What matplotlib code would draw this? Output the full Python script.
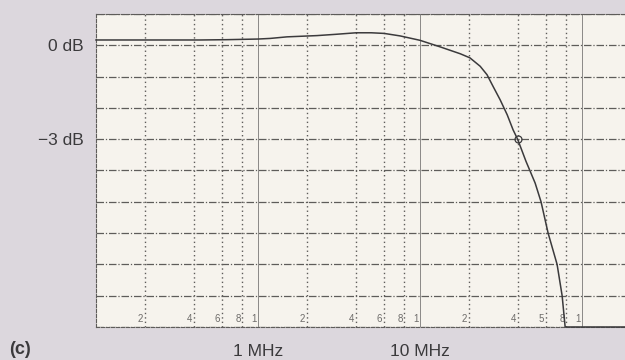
import matplotlib.pyplot as plt
import numpy as np

# frequency response (MHz, dB)
freq_mhz = [0.1, 0.215, 0.44, 0.644, 1.0, 1.19, 1.51, 2.31, 3.0, 4.03, 5.0, 6.0,
            7.53, 9.98, 13.3, 17.7, 20.3, 23.5, 25.9, 28.2, 31.2, 34.5, 37.5, 40.0,
            45.0, 51.3, 55.8, 61.7, 70.1, 75.3, 78.6, 100, 190]
gain_db = [0.17, 0.17, 0.17, 0.18, 0.2, 0.22, 0.27, 0.31, 0.35, 0.4, 0.4, 0.38,
           0.3, 0.16, -0.05, -0.27, -0.4, -0.67, -0.94, -1.31, -1.74, -2.22, -2.7, -3.0,
           -3.7, -4.4, -5.0, -6.0, -7.0, -8.0, -9.0, -9.0, -9.0]

marker_f = [40.0]
marker_db = [-3.0]

decade_f = [1, 10, 100]
minor_f = [0.2, 0.4, 0.6, 0.8, 2, 4, 6, 8, 20, 40, 60, 80]
minor_labels = ['2', '4', '6', '8', '2', '4', '6', '8', '2', '4', '5', '8']
decade_inner_labels = ['1', '1', '1']
y_grid = list(range(-9, 2))
y_labels = {0: '0 dB', -3: '\u22123 dB'}
x_labels = {1: '1 MHz', 10: '10 MHz'}

ink = '#3b3a3c'
grid_c = '#5e5c5a'

plt.rcParams['font.family'] = ['Liberation Sans', 'DejaVu Sans']

fig = plt.figure(figsize=(6.25, 3.6), dpi=100, facecolor='#dcd7dd')
ax = fig.add_axes([0.1536, 0.0917, 0.8464, 0.8694])
ax.set_facecolor('#f6f3ed')
ax.set_xscale('log')
ax.set_xlim(0.1, 184)
ax.set_ylim(-9, 1)

# grid
for y in y_grid:
    ax.axhline(y, color=grid_c, lw=0.9, ls=(0, (6, 1.5, 1, 1.5)), zorder=1)
for f in minor_f:
    ax.axvline(f, color=grid_c, lw=1.0, ls=(0, (1, 2.2)), zorder=1)
for f in decade_f:
    ax.axvline(f, color='#8a8886', lw=0.7, zorder=1)

# small numbers at the bottom of the grid
for f, lab in zip(minor_f + decade_f, minor_labels + decade_inner_labels):
    ax.text(f * 0.975, -8.75, lab, ha='right', va='center', fontsize=7,
            color='#6e6c6a', zorder=2)

gain = np.clip(gain_db, -9, 1)
ax.plot(freq_mhz, gain, color=ink, lw=1.1, zorder=3, clip_on=False)
ax.plot(marker_f, marker_db, 'o', ms=5, mfc='none', mec=ink, mew=0.9, zorder=4)

for s in ['left', 'top', 'bottom']:
    ax.spines[s].set_color(grid_c)
    ax.spines[s].set_linewidth(0.8)
    ax.spines[s].set_linestyle((0, (3, 1.5)))
ax.spines['right'].set_visible(False)

ax.set_xticks(list(x_labels.keys()))
ax.set_xticklabels(list(x_labels.values()))
ax.set_xticks([], minor=True)
ax.set_yticks(list(y_labels.keys()))
ax.set_yticklabels(list(y_labels.values()))
ax.tick_params(length=0, labelsize=12.5, labelcolor=ink)
ax.tick_params(axis='x', pad=12)
ax.tick_params(axis='y', pad=9)

fig.text(0.014, 0.017, '(c)', fontsize=13, fontweight='bold', color=ink)

fig.savefig('out.png', dpi=100, facecolor=fig.get_facecolor())
